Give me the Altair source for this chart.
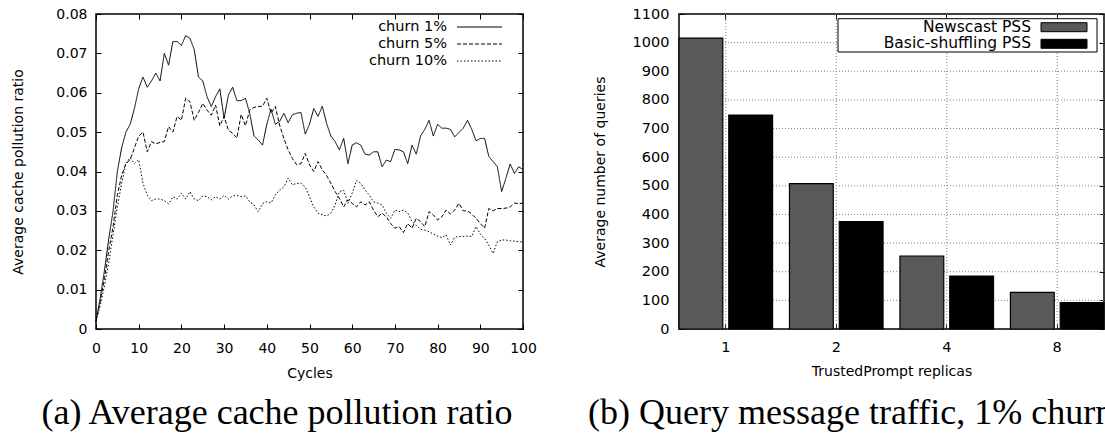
import altair as alt
import pandas as pd

FONT = "DejaVu Sans"
SERIF = "Liberation Serif"
TICK = 5

# ---------------- (a) average cache pollution ratio ----------------
cycles = list(range(0, 101))
churn_1 = [
    0.002, 0.008, 0.015, 0.023, 0.030, 0.040, 0.046, 0.050, 0.052, 0.056,
    0.061, 0.064, 0.0614, 0.063, 0.065, 0.063, 0.070, 0.067, 0.073, 0.073,
    0.072, 0.0745, 0.0738, 0.071, 0.064, 0.063, 0.059, 0.0565, 0.059, 0.061,
    0.0535, 0.0594, 0.0614, 0.058, 0.058, 0.0586, 0.0548, 0.049, 0.048, 0.0467,
    0.052, 0.0558, 0.052, 0.0527, 0.0548, 0.0524, 0.0544, 0.0548, 0.055, 0.0495,
    0.052, 0.056, 0.054, 0.0566, 0.0522, 0.049, 0.0476, 0.0455, 0.0484, 0.042,
    0.0467, 0.0473, 0.0467, 0.0444, 0.0442, 0.045, 0.045, 0.0412, 0.0429, 0.0425,
    0.0456, 0.0455, 0.045, 0.042, 0.0467, 0.0444, 0.049, 0.0507, 0.053, 0.049,
    0.052, 0.051, 0.051, 0.0507, 0.0488, 0.0499, 0.051, 0.053, 0.0507, 0.0478,
    0.0484, 0.0484, 0.0438, 0.0425, 0.0412, 0.0349, 0.0383, 0.0419, 0.0395, 0.0412,
    0.0405,
]
churn_5 = [
    0.002, 0.007, 0.013, 0.020, 0.026, 0.034, 0.039, 0.042, 0.043, 0.046,
    0.049, 0.050, 0.045, 0.0476, 0.047, 0.0474, 0.0476, 0.0514, 0.050, 0.054,
    0.053, 0.0586, 0.0577, 0.053, 0.055, 0.0573, 0.0556, 0.0543, 0.0569, 0.0516,
    0.054, 0.0505, 0.0497, 0.0485, 0.0545, 0.0516, 0.0556, 0.0563, 0.0565, 0.0566,
    0.0586, 0.0548, 0.0565, 0.0518, 0.0484, 0.0455, 0.0433, 0.0417, 0.042, 0.0446,
    0.0417, 0.040, 0.0425, 0.0404, 0.039, 0.037, 0.0349, 0.0332, 0.031, 0.0328,
    0.0319, 0.031, 0.0323, 0.0315, 0.0323, 0.0302, 0.0285, 0.0294, 0.0285, 0.0268,
    0.0256, 0.026, 0.0245, 0.0268, 0.0256, 0.0281, 0.0273, 0.026, 0.0298, 0.029,
    0.0277, 0.0285, 0.0302, 0.0292, 0.0302, 0.0319, 0.030, 0.030, 0.0292, 0.0281,
    0.0268, 0.0256, 0.0306, 0.030, 0.0306, 0.0306, 0.0307, 0.031, 0.032, 0.0318,
    0.032,
]
churn_10 = [
    0.002, 0.006, 0.011, 0.017, 0.024, 0.031, 0.037, 0.042, 0.0435, 0.042,
    0.043, 0.037, 0.034, 0.0326, 0.033, 0.033, 0.0326, 0.0318, 0.0336, 0.033,
    0.0345, 0.033, 0.0349, 0.033, 0.0326, 0.0338, 0.0336, 0.0328, 0.0336, 0.033,
    0.0339, 0.033, 0.0338, 0.0339, 0.0336, 0.0338, 0.0323, 0.0315, 0.0298, 0.0319,
    0.0323, 0.032, 0.034, 0.0353, 0.0361, 0.0383, 0.0366, 0.037, 0.037, 0.0361,
    0.0336, 0.031, 0.0294, 0.029, 0.0287, 0.0294, 0.0315, 0.0349, 0.0353, 0.0319,
    0.0345, 0.0377, 0.037, 0.0353, 0.034, 0.0323, 0.032, 0.0315, 0.0294, 0.0281,
    0.0302, 0.0298, 0.0302, 0.0295, 0.0273, 0.0264, 0.0253, 0.0251, 0.0247, 0.0241,
    0.0236, 0.0232, 0.0239, 0.0213, 0.0233, 0.0235, 0.0235, 0.0236, 0.0235, 0.026,
    0.0241, 0.023, 0.0213, 0.0192, 0.0222, 0.0226, 0.0226, 0.0224, 0.0223, 0.0222,
    0.0221,
]
churn_names = ["churn 1%", "churn 5%", "churn 10%"]
churn_dash = [[1, 0], [4, 2], [1.5, 2]]
ratio_ticks = [0, 0.01, 0.02, 0.03, 0.04, 0.05, 0.06, 0.07, 0.08]
cycle_ticks = [0, 10, 20, 30, 40, 50, 60, 70, 80, 90, 100]

# ---------------- (b) query message traffic ----------------
replicas = ["1", "2", "4", "8"]
newscast_queries = [1016, 508, 255, 128]
basic_queries = [747, 375, 185, 92]
pss_names = ["Newscast PSS", "Basic-shuffling PSS"]
pss_fill = ["#595959", "#000000"]
query_ticks = [0, 100, 200, 300, 400, 500, 600, 700, 800, 900, 1000, 1100]

captions = ["(a) Average cache pollution ratio", "(b) Query message traffic, 1% churn"]

# page geometry: left panel's plot area starts at (96, 14)
PAGE_W, PAGE_H = 1105, 445
ORIGIN_X, ORIGIN_Y = 96, 14
CAPTION_SIZE = 36
CAPTION_Y = 410

# ================= left panel =================
WA, HA = 427, 315
lines_df = pd.DataFrame({
    "cycle": cycles * 3,
    "ratio": churn_1 + churn_5 + churn_10,
    "series": [n for n in churn_names for _ in cycles],
})
xa = alt.Scale(domain=[0, 100], nice=False, zero=False)
ya = alt.Scale(domain=[0, 0.08], nice=False)

lines = alt.Chart(lines_df).mark_line(color="black", strokeWidth=1).encode(
    x=alt.X("cycle:Q", scale=xa, axis=alt.Axis(
        orient="bottom", values=cycle_ticks, offset=-TICK, tickSize=TICK,
        labelFlush=False, labelPadding=12, labelFontSize=14,
        title="Cycles", titleFontSize=14, titlePadding=11)),
    y=alt.Y("ratio:Q", scale=ya, axis=alt.Axis(
        orient="left", values=ratio_ticks, format=".2~f", offset=-TICK,
        tickSize=TICK, labelFlush=False, labelPadding=9, labelFontSize=14,
        title="Average cache pollution ratio", titleFontSize=14, titlePadding=30)),
    strokeDash=alt.StrokeDash("series:N", scale=alt.Scale(domain=churn_names, range=churn_dash), legend=None),
)

# mirrored inward ticks on the top and right edges
mirror_a = alt.Chart(lines_df).mark_point(opacity=0).encode(
    x=alt.X("cycle:Q", scale=xa, axis=alt.Axis(
        orient="top", values=cycle_ticks, offset=-TICK, tickSize=TICK, labels=False, title=None)),
    y=alt.Y("ratio:Q", scale=ya, axis=alt.Axis(
        orient="right", values=ratio_ticks, offset=-TICK, tickSize=TICK, labels=False, title=None)),
)

legend_a = []
for i, (name, dash) in enumerate(zip(churn_names, churn_dash)):
    row = pd.DataFrame({"series": [name]})
    yy = 13 + 17 * i
    legend_a.append(alt.Chart(row).mark_text(
        align="right", baseline="middle", font=FONT, fontSize=14.5, color="black"
    ).encode(text="series:N", x=alt.value(351), y=alt.value(yy)))
    legend_a.append(alt.Chart(row).mark_rule(
        color="black", strokeWidth=1, strokeDash=dash
    ).encode(x=alt.value(361), x2=alt.value(406), y=alt.value(yy)))

cap_a = alt.Chart(pd.DataFrame({"caption": [captions[0]]})).mark_text(
    font=SERIF, fontSize=CAPTION_SIZE, align="center", baseline="alphabetic", color="black"
).encode(text="caption:N", x=alt.value(181), y=alt.value(CAPTION_Y))

left = alt.layer(lines, mirror_a, *legend_a, cap_a).resolve_axis(
    x="independent", y="independent"
).properties(width=WA, height=HA)

# ================= right panel =================
WB, HB = 425, 315
bars_df = pd.DataFrame({
    "replicas": replicas * 2,
    "queries": newscast_queries + basic_queries,
    "pss": [pss_names[0]] * 4 + [pss_names[1]] * 4,
})
xb = alt.Scale(domain=replicas, paddingInner=0.153, paddingOuter=0)
yb = alt.Scale(domain=[0, 1100], nice=False)
GRID = dict(color="#808080", strokeWidth=1, strokeDash=[1, 2])

grid_h = alt.Chart(pd.DataFrame({"queries": query_ticks[1:-1]})).mark_rule(**GRID).encode(
    y=alt.Y("queries:Q", scale=yb, axis=None))
grid_v = alt.Chart(pd.DataFrame({"replicas": replicas})).mark_rule(**GRID).encode(
    x=alt.X("replicas:N", sort=replicas, scale=xb, axis=None, bandPosition=0.5))

bars = alt.Chart(bars_df).mark_bar(stroke="black", strokeWidth=1.2).encode(
    x=alt.X("replicas:N", sort=replicas, scale=xb, axis=alt.Axis(
        orient="bottom", offset=-TICK, tickSize=TICK, bandPosition=0.5, labelAngle=0,
        labelPadding=11, labelFontSize=14.5, title="TrustedPrompt replicas",
        titleFontSize=14, titlePadding=11)),
    xOffset=alt.XOffset("pss:N", sort=pss_names, scale=alt.Scale(
        domain=pss_names, paddingInner=0.12, paddingOuter=0)),
    y=alt.Y("queries:Q", scale=yb, axis=alt.Axis(
        orient="left", values=query_ticks, format="d", offset=-TICK, tickSize=TICK,
        labelFlush=False, labelPadding=10, labelFontSize=14.5,
        title="Average number of queries", titleFontSize=14, titlePadding=25)),
    fill=alt.Fill("pss:N", scale=alt.Scale(domain=pss_names, range=pss_fill), legend=None),
)

mirror_b = alt.Chart(bars_df).mark_bar(opacity=0).encode(
    x=alt.X("replicas:N", sort=replicas, scale=xb, axis=alt.Axis(
        orient="top", offset=-TICK, tickSize=TICK, bandPosition=0.5, labels=False, title=None)),
    y=alt.Y("queries:Q", scale=yb, axis=alt.Axis(
        orient="right", values=query_ticks, offset=-TICK, tickSize=TICK, labels=False, title=None)),
)

legend_box = alt.Chart(pd.DataFrame({"k": [0]})).mark_rect(
    fill="white", stroke="black", strokeWidth=1
).encode(x=alt.value(159), x2=alt.value(418), y=alt.value(4.7), y2=alt.value(38))

legend_b = []
for i, (name, fill) in enumerate(zip(pss_names, pss_fill)):
    row = pd.DataFrame({"pss": [name]})
    y0 = 8.7 + 16.6 * i
    legend_b.append(alt.Chart(row).mark_text(
        align="right", baseline="alphabetic", font=FONT, fontSize=15.5, color="black"
    ).encode(text="pss:N", x=alt.value(352), y=alt.value(y0 + 9)))
    legend_b.append(alt.Chart(row).mark_rect(
        fill=fill, stroke="black", strokeWidth=1
    ).encode(x=alt.value(362), x2=alt.value(408), y=alt.value(y0), y2=alt.value(y0 + 9)))

cap_b = alt.Chart(pd.DataFrame({"caption": [captions[1]]})).mark_text(
    font=SERIF, fontSize=CAPTION_SIZE, align="left", baseline="alphabetic", color="black"
).encode(text="caption:N", x=alt.value(-91), y=alt.value(CAPTION_Y))

right = alt.layer(grid_h, grid_v, bars, mirror_b, legend_box, *legend_b, cap_b).resolve_axis(
    x="independent", y="independent"
).properties(width=WB, height=HB)

chart = alt.hconcat(left, right, spacing=156, bounds="flush").properties(
    autosize=alt.AutoSizeParams(type="none"),
    padding={"left": ORIGIN_X, "top": ORIGIN_Y,
             "right": PAGE_W - ORIGIN_X, "bottom": PAGE_H - ORIGIN_Y},
).configure_view(
    stroke="black", strokeWidth=1.5
).configure_axis(
    domain=False, grid=False, tickColor="black", tickWidth=1,
    labelColor="black", titleColor="black", labelFont=FONT, titleFont=FONT,
    titleFontWeight="normal",
)

chart.save("out.html", embed_options={"renderer": "svg", "actions": False})
